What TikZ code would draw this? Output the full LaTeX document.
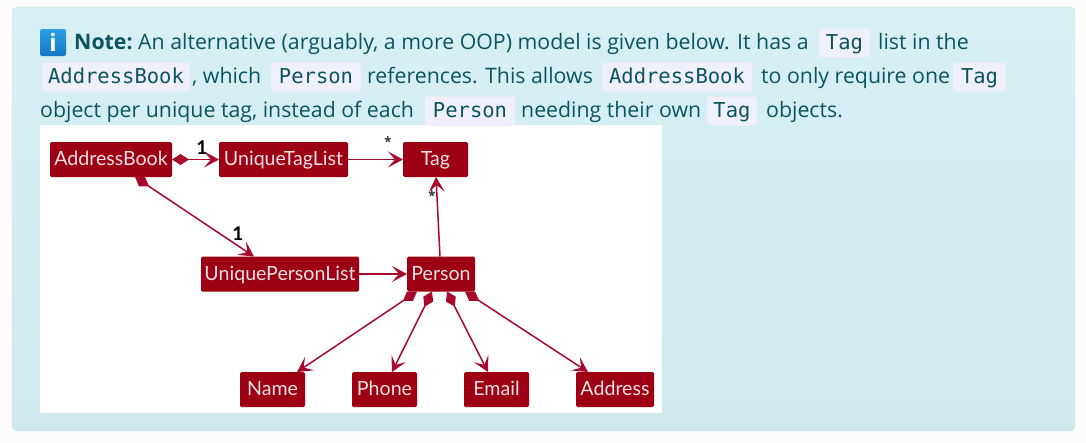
\documentclass[tikz,border=0pt]{standalone}
\usepackage{fontspec}
\usepackage{tikz}
\usetikzlibrary{positioning,arrows.meta}
\setmainfont{Open Sans}
\newfontfamily\codefont{DejaVu Sans Mono}
\newfontfamily\classfont{Lato}
\definecolor{PanelText}{HTML}{0C5460}
\definecolor{PanelTop}{HTML}{D7F0F4}
\definecolor{PanelBottom}{HTML}{CFE9EE}
\definecolor{PanelEdge}{HTML}{C4E6EC}
\definecolor{CodeFill}{HTML}{F0F0FD}
\definecolor{CodeEdge}{HTML}{ECE9F4}
\definecolor{IconTop}{HTML}{2CA0E4}
\definecolor{IconBottom}{HTML}{1578C2}
\definecolor{ClassRed}{HTML}{9C0012}
\definecolor{LineRed}{HTML}{A80A2C}
\begin{document}
\begin{tikzpicture}[x=1pt,y=-1pt]
        \tikzset{
            PanelStyle/.style = {
                inner sep = 0pt,
                outer sep = 0pt,
                rounded corners = 5pt,
                draw = PanelEdge,
                top color = PanelTop,
                bottom color = PanelBottom},
            ClassStyle/.style = {
                inner sep = 0pt,
                outer sep = 0pt,
                rounded corners = 1.5pt,
                fill = ClassRed,
                text = white!88!ClassRed,
                text height = 15pt,
                text depth = 3pt,
                minimum height = 35pt,
                font = \classfont\fontsize{19.6}{20}\selectfont},
            CodeStyle/.style = {
                inner sep = 0pt,
                rounded corners = 3pt,
                fill = CodeFill,
                draw = CodeEdge,
                text = PanelText,
                text height = 16pt,
                text depth = 4pt,
                minimum height = 29pt,
                font = \codefont\fontsize{20.5}{24}\selectfont},
            TextStyle/.style = {
                inner sep = 0pt,
                anchor = base west,
                text = PanelText,
                font = \fontsize{21.3}{24}\selectfont},
            LinkStyle/.style = {
                draw = LineRed,
                line width = 1.5pt,
                -{Stealth[length=15pt,width=16pt,inset=7pt]}},
            OwnStyle/.style = {
                LinkStyle,
                {Diamond[length=17pt,width=11pt]}-{Stealth[length=15pt,width=16pt,inset=7pt]}},
            LabelStyle/.style = {
                inner sep = 0pt,
                text = black,
                font = \classfont\fontsize{19}{20}\bfseries\selectfont},
            StarStyle/.style = {
                inner sep = 0pt,
                text = black!80,
                font = \fontsize{13}{14}\bfseries\selectfont}
                }
    \useasboundingbox[fill=white!99!black] (0,0) rectangle (1086,442);
    \node[PanelStyle,minimum width=1063pt,minimum height=424pt] (Panel) at (543.5,219) {};
    \node[fill=white,inner sep=0pt,minimum width=622pt,minimum height=288pt] (Sheet) at (351,269) {};
    \node[inner sep=0pt,rounded corners=2pt,top color=IconTop,bottom color=IconBottom,text=white,minimum width=26pt,minimum height=27pt,font=\fontsize{24}{24}\bfseries\selectfont] (InfoIcon) at (53,42.5) {i};
    \node[TextStyle,font=\fontsize{21.3}{24}\bfseries\selectfont] (NoteText) at (74,49.5) {Note:};
    \node[TextStyle] (LineOneA) at (138,49.5) {An alternative (arguably, a more OOP) model is given below. It has a};
    \node[CodeStyle,minimum width=51pt] (TagOne) at (844.5,43) {Tag};
    \node[TextStyle] (LineOneB) at (878,49.5) {list in the};
    \node[CodeStyle,minimum width=148pt] (BookOne) at (116,77) {AddressBook};
    \node[TextStyle] (LineTwoA) at (192,83.5) {, which};
    \node[CodeStyle,minimum width=90pt] (PersonOne) at (316,77) {Person};
    \node[TextStyle] (LineTwoB) at (367,83.5) {references. This allows};
    \node[CodeStyle,minimum width=150pt] (BookTwo) at (677,77) {AddressBook};
    \node[TextStyle] (LineTwoC) at (761,83.5) {to only require one};
    \node[CodeStyle,minimum width=53pt] (TagTwo) at (979.5,77) {Tag};
    \node[TextStyle] (LineThreeA) at (40,117.5) {object per unique tag, instead of each};
    \node[CodeStyle,minimum width=90pt] (PersonTwo) at (470,111) {Person};
    \node[TextStyle] (LineThreeB) at (521,117.5) {needing their own};
    \node[CodeStyle,minimum width=50pt] (TagThree) at (732,111) {Tag};
    \node[TextStyle] (LineThreeC) at (766,117.5) {objects.};
    \node[ClassStyle,minimum width=122pt] (AddressBook) at (111,159.5) {AddressBook};
    \node[ClassStyle,minimum width=129pt,right=47pt of AddressBook] (UniqueTagList) {UniqueTagList};
    \node[ClassStyle,minimum width=65pt,right=55pt of UniqueTagList] (Tag) {Tag};
    \node[ClassStyle,minimum width=158pt] (UniquePersonList) at (280,274) {UniquePersonList};
    \node[ClassStyle,minimum width=68pt,right=48pt of UniquePersonList] (Person) {Person};
    \node[ClassStyle,minimum width=65pt] (Name) at (272.5,389.5) {Name};
    \node[ClassStyle,minimum width=65pt,right=47pt of Name] (Phone) {Phone};
    \node[ClassStyle,minimum width=65pt,right=47pt of Phone] (Email) {Email};
    \node[ClassStyle,minimum width=78pt,right=47pt of Email] (Address) {Address};
        \draw[OwnStyle] (AddressBook) -- (UniqueTagList);
        \draw[LinkStyle] (UniqueTagList) -- (Tag);
        \draw[OwnStyle] ([xshift=24pt]AddressBook.south) -- ([xshift=-26pt]UniquePersonList.north);
        \draw[LinkStyle] (UniquePersonList) -- (Person);
        \draw[LinkStyle] ([xshift=-1pt]Person.north) -- ([xshift=.5pt]Tag.south);
        \draw[OwnStyle] ([xshift=-24pt]Person.south) -- ([xshift=24.5pt]Name.north);
        \draw[OwnStyle] ([xshift=-9pt]Person.south) -- ([xshift=7.5pt]Phone.north);
        \draw[OwnStyle] ([xshift=6pt]Person.south) -- ([xshift=-8.5pt]Email.north);
        \draw[OwnStyle] ([xshift=24pt]Person.south) -- ([xshift=-27pt]Address.north);
    \node[LabelStyle] (BookTagCount) at (202,148) {1};
    \node[LabelStyle] (BookPersonCount) at (238,234) {1};
    \node[StarStyle] (TagListCount) at (388,142) {*};
    \node[StarStyle] (PersonTagCount) at (432,196) {*};
\end{tikzpicture}
\end{document}
